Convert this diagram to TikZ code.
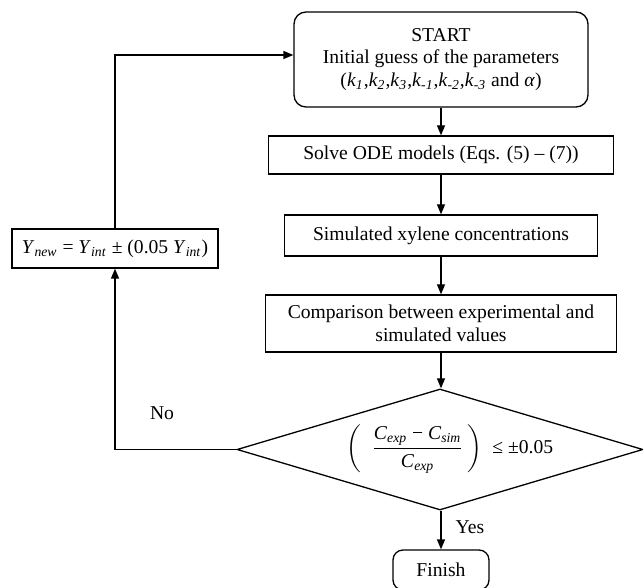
\documentclass[tikz,border=0pt]{standalone}
\usepackage{amsmath}
\usepackage{fontspec}
\setmainfont{Liberation Serif}
\usetikzlibrary{shapes.geometric,arrows.meta}

\begin{document}
\begin{tikzpicture}[x=0.5pt, y=-0.5pt, line width=0.65pt,
    >={Triangle[length=5pt,width=4pt]},
    font=\fontsize{9.8}{11.3}\selectfont,
    box/.style={shape=rectangle, draw, align=center},
    roundbox/.style={box, rounded corners=6pt},
    decision/.style={shape=diamond, draw, inner sep=0pt}]
    \useasboundingbox (0,0) rectangle (643,588);
    \clip (0,0) rectangle (643,588);

    \node [roundbox, minimum width=147pt, minimum height=47.5pt] (start) at (441, 59.5)
      {START\\Initial guess of the parameters\\(\textit{k}\textsubscript{\textit{1}},\textit{k}\textsubscript{\textit{2}},\textit{k}\textsubscript{\textit{3}},\textit{k}\textsubscript{\textit{-1}},\textit{k}\textsubscript{\textit{-2}},\textit{k}\textsubscript{\textit{-3}} and \textit{α})};
    \node [box, minimum width=172.5pt, minimum height=19pt] (solve) at (441, 155)
      {Solve ODE models (Eqs. (5) – (7))};
    \node [box, minimum width=156.5pt, minimum height=20.5pt] (sim) at (441, 235.5)
      {Simulated xylene concentrations};
    \node [box, minimum width=175.5pt, minimum height=28.5pt] (comp) at (441, 323.5)
      {Comparison between experimental and\\simulated values};
    \node [decision, minimum width=203pt, minimum height=60.5pt] (check) at (440, 449.5) {};
    \node (cond) at (450, 449)
      {$\left(\hspace{5pt}\dfrac{\mbox{\textit{C}\textsubscript{\textit{exp}} − \textit{C}\textsubscript{\textit{sim}}}}{\mbox{\textit{C}\textsubscript{\textit{exp}}}}\hspace{2pt}\right)$\hspace{5pt}≤ ±0.05};
    \node [roundbox, rounded corners=5pt, minimum width=48pt, minimum height=20pt] (finish) at (441, 570) {Finish};
    \node [box, minimum width=103pt, minimum height=19.5pt] (ynew) at (115, 248.5)
      {\textit{Y}\textsubscript{\textit{new}} = \textit{Y}\textsubscript{\textit{int}} ± (0.05 \textit{Y}\textsubscript{\textit{int}})};
    \node (no) at (162, 413) {No};
    \node (yes) at (470, 527) {Yes};

    \draw [->] (start) -- (solve);
    \draw [->] (solve) -- (sim);
    \draw [->] (sim) -- (comp);
    \draw [->] (comp.south) -- (comp.south |- check.north);
    \draw [->] (check.south -| finish.north) -- (finish);
    \draw [->] (check.west) -| (ynew);
    \draw [->] (ynew) |- ([yshift=2.25pt]start.west);
  \end{tikzpicture}
\end{document}
